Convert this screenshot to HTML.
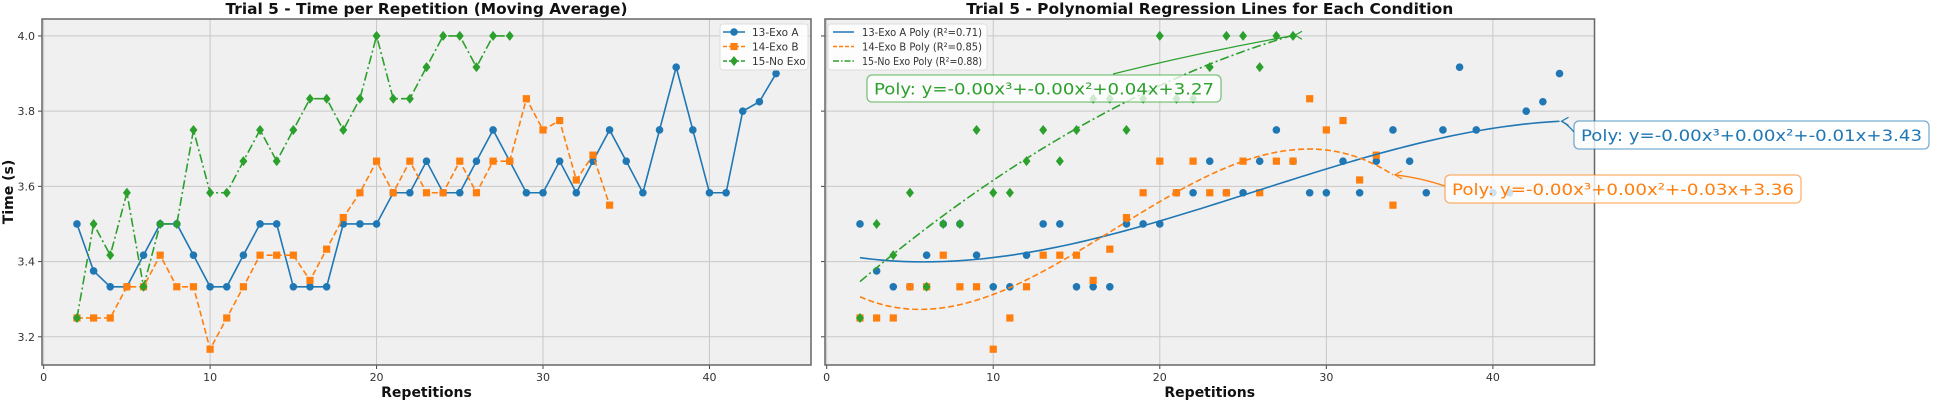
<!DOCTYPE html>
<html><head><meta charset="utf-8"><style>
html,body{margin:0;padding:0;background:#fff;}
svg{display:block;font-family:"DejaVu Sans","Liberation Sans",sans-serif;}
</style></head><body>
<svg id="fig" width="1937" height="405" viewBox="0 0 1937 405" xmlns="http://www.w3.org/2000/svg">
<g id="leftAx"></g>
<g id="rightAx"></g>
</svg>
<script>
const xsA = [2,3,4,5,6,7,8,9,10,11,12,13,14,15,16,17,18,19,20,21,22,23,24,25,26,27,28,29,30,31,32,33,34,35,36,37,38,39,40,41,42,43,44];
const valsA = [3.5,3.375,3.333,3.333,3.417,3.5,3.5,3.417,3.333,3.333,3.417,3.5,3.5,3.333,3.333,3.333,3.5,3.5,3.5,3.583,3.583,3.667,3.583,3.583,3.667,3.75,3.667,3.583,3.583,3.667,3.583,3.667,3.75,3.667,3.583,3.75,3.917,3.75,3.583,3.583,3.8,3.825,3.9];
const xsB = [2,3,4,5,6,7,8,9,10,11,12,13,14,15,16,17,18,19,20,21,22,23,24,25,26,27,28,29,30,31,32,33,34];
const valsB = [3.25,3.25,3.25,3.333,3.333,3.417,3.333,3.333,3.167,3.25,3.333,3.417,3.417,3.417,3.35,3.433,3.517,3.583,3.667,3.583,3.667,3.583,3.583,3.667,3.583,3.667,3.667,3.833,3.75,3.775,3.617,3.683,3.55];
const xsC = [2,3,4,5,6,7,8,9,10,11,12,13,14,15,16,17,18,19,20,21,22,23,24,25,26,27,28];
const valsC = [3.25,3.5,3.417,3.583,3.333,3.5,3.5,3.75,3.583,3.583,3.667,3.75,3.667,3.75,3.833,3.833,3.75,3.833,4.0,3.833,3.833,3.917,4.0,4.0,3.917,4.0,4.0];
const seriesNames = ["13-Exo A","14-Exo B","15-No Exo"];
const polyNames = ["13-Exo A Poly (R²=0.71)","14-Exo B Poly (R²=0.85)","15-No Exo Poly (R²=0.88)"];
const polyLabels = ["Poly: y=-0.00x³+0.00x²+-0.01x+3.43","Poly: y=-0.00x³+0.00x²+-0.03x+3.36","Poly: y=-0.00x³+-0.00x²+0.04x+3.27"];
const xTicks = [0,10,20,30,40];
const yTicks = [3.2,3.4,3.6,3.8,4.0];

const NS="http://www.w3.org/2000/svg";
const colors=["#1f77b4","#ff7f0e","#2ca02c"];
const dashes=["","6,3","9,3,2,3"];
const XMIN=-0.1,XMAX=46.1,YMIN=3.125,YMAX=4.045;
const TOP=19,BOT=365;
function mk(tag,attrs,parent){const e=document.createElementNS(NS,tag);for(const k in attrs)e.setAttribute(k,attrs[k]);parent.appendChild(e);return e;}
function axes(L,R){return {x:v=>L+(v-XMIN)/(XMAX-XMIN)*(R-L),y:v=>BOT-(v-YMIN)/(YMAX-YMIN)*(BOT-TOP),L,R};}

function marker(g,kind,cx,cy,col,op){
  let e;
  if(kind===0){e=mk('circle',{cx,cy,r:3.8,fill:col,opacity:op},g);}
  else if(kind===1){e=mk('rect',{x:cx-3.6,y:cy-3.6,width:7.2,height:7.2,fill:col,opacity:op},g);}
  else{e=mk('path',{d:`M${cx},${cy-5} L${cx+4},${cy} L${cx},${cy+5} L${cx-4},${cy} Z`,fill:col,opacity:op},g);}
  return e;
}

function frame(g,ax,showYLabels,title,titleLen){
  const bg=mk('rect',{x:ax.L,y:TOP,width:ax.R-ax.L,height:BOT-TOP,fill:"#f0f0f0"},g);
  
  
  xTicks.forEach(t=>{
    const x=ax.x(t);
    const gl=mk('line',{x1:x,x2:x,y1:TOP,y2:BOT,stroke:"#c8c8c8","stroke-width":1},g);
    
    
    mk('line',{x1:x,x2:x,y1:BOT,y2:BOT+4,stroke:"#444","stroke-width":1},g);
    const tl=mk('text',{x:x,y:BOT+16,"font-size":11,"text-anchor":"middle",fill:"#333"},g);
    tl.textContent=t;
    
    
  });
  yTicks.forEach(t=>{
    const y=ax.y(t);
    const gl=mk('line',{x1:ax.L,x2:ax.R,y1:y,y2:y,stroke:"#c8c8c8","stroke-width":1},g);
    
    
    mk('line',{x1:ax.L-4,x2:ax.L,y1:y,y2:y,stroke:"#444","stroke-width":1},g);
    if(showYLabels){
      const tl=mk('text',{x:ax.L-7,y:y+4,"font-size":11,"text-anchor":"end",fill:"#333"},g);
      tl.textContent=t.toFixed(1);
      
      
    }
  });
  const br=mk('rect',{x:ax.L,y:TOP,width:ax.R-ax.L,height:BOT-TOP,fill:"none",stroke:"#666","stroke-width":1.5},g);
  
  
  const tt=mk('text',{x:(ax.L+ax.R)/2,y:14,"font-size":15,"font-weight":"bold","text-anchor":"middle",textLength:titleLen,lengthAdjust:"spacingAndGlyphs",fill:"#111"},g);
  tt.textContent=title;
  
  
  const xl=mk('text',{x:(ax.L+ax.R)/2,y:397,"font-size":14,"font-weight":"bold","text-anchor":"middle",fill:"#111"},g);
  xl.textContent="Repetitions";
  
  
}

function polyfit(xs,ys){
  const n=4,M=[];for(let i=0;i<n;i++){M.push(new Array(n+1).fill(0));}
  xs.forEach((x,k)=>{for(let i=0;i<n;i++){for(let j=0;j<n;j++)M[i][j]+=Math.pow(x,i+j);M[i][n]+=ys[k]*Math.pow(x,i);}});
  for(let c=0;c<n;c++){let p=c;for(let r=c+1;r<n;r++)if(Math.abs(M[r][c])>Math.abs(M[p][c]))p=r;[M[c],M[p]]=[M[p],M[c]];
    for(let r=0;r<n;r++){if(r===c)continue;const f=M[r][c]/M[c][c];for(let j=c;j<=n;j++)M[r][j]-=f*M[c][j];}}
  const co=[];for(let i=0;i<n;i++)co.push(M[i][n]/M[i][i]);
  return x=>co[0]+co[1]*x+co[2]*x*x+co[3]*x*x*x;
}

const XS=[xsA,xsB,xsC],YS=[valsA,valsB,valsC];

// Left panel
const gl=document.getElementById('leftAx');
const axL=axes(42,811);
frame(gl,axL,true,"Trial 5 - Time per Repetition (Moving Average)",402);
const yl=mk('text',{x:0,y:0,"font-size":14,"font-weight":"bold","text-anchor":"middle",fill:"#111",transform:"translate(13,192) rotate(-90)"},gl);
yl.textContent="Time (s)";


for(let s=0;s<3;s++){
  const sg=mk('g',{},gl);
  
  
  const pts=XS[s].map((x,i)=>axL.x(x)+","+axL.y(YS[s][i])).join(" ");
  const pl=mk('polyline',{points:pts,fill:"none",stroke:colors[s],"stroke-width":1.6,"stroke-dasharray":dashes[s]},sg);
  
  
  XS[s].forEach((x,i)=>{const m=marker(sg,s,axL.x(x),axL.y(YS[s][i]),colors[s],1);
    
    });
}
// left legend
const lg=mk('g',{},gl);


mk('rect',{x:720,y:24,width:88,height:46,rx:3,fill:"#fff","fill-opacity":0.85,stroke:"#ddd"},lg);
for(let s=0;s<3;s++){
  const y=32+s*14.5;
  const e=mk('g',{},lg);
  
  
  mk('line',{x1:723,x2:745,y1:y,y2:y,stroke:colors[s],"stroke-width":1.6,"stroke-dasharray":dashes[s]?"4,2":""},e);
  marker(e,s,734,y,colors[s],1);
  const t=mk('text',{x:752,y:y+4,"font-size":10.5,fill:"#333"},e);t.textContent=seriesNames[s];
}

// Right panel
const gr=document.getElementById('rightAx');
const axR=axes(825,1594.5);
frame(gr,axR,false,"Trial 5 - Polynomial Regression Lines for Each Condition",487);
const fits=[];
for(let s=0;s<3;s++){
  const sg=mk('g',{},gr);
  
  
  XS[s].forEach((x,i)=>{const m=marker(sg,s,axR.x(x),axR.y(YS[s][i]),colors[s],1);
    
    });
}
for(let s=0;s<3;s++){
  const f=polyfit(XS[s],YS[s]);fits.push(f);
  const x0=Math.min(...XS[s]),x1=Math.max(...XS[s]);let pts=[];
  for(let k=0;k<=100;k++){const x=x0+(x1-x0)*k/100;pts.push(axR.x(x)+","+axR.y(f(x)));}
  const pl=mk('polyline',{points:pts.join(" "),fill:"none",stroke:colors[s],"stroke-width":1.6,"stroke-dasharray":dashes[s]},gr);
  
  
}
// annotations
const boxes=[[1574,121,355,28],[1445,175,356,28],[867,75,354,27]];
const arrowFrom=[[1574,132],[1445,186],[1113,74]];
for(let s=0;s<3;s++){
  const xe=Math.max(...XS[s]);
  const tx=axR.x(xe),ty=axR.y(fits[s](xe));
  const ag=mk('g',{},gr);
  
  
  const [fx,fy]=arrowFrom[s];
  mk('path',{d:`M${fx},${fy} Q${(fx+tx)/2},${(fy+ty)/2-3} ${tx+2},${ty}`,fill:"none",stroke:colors[s],"stroke-width":1.3},ag);
  mk('path',{d:`M${tx+9},${ty-4} L${tx+2},${ty} L${tx+9},${ty+4}`,fill:"none",stroke:colors[s],"stroke-width":1.2},ag);
  const [bx,by,bw,bh]=boxes[s];
  mk('rect',{x:bx,y:by,width:bw,height:bh,rx:5,fill:"#fff","fill-opacity":0.78,stroke:colors[s],"stroke-opacity":0.6,"stroke-width":1.3},ag);
  const t=mk('text',{x:bx+bw/2,y:by+bh/2+6,"font-size":16,"text-anchor":"middle",fill:colors[s],textLength:bw-14,lengthAdjust:"spacingAndGlyphs"},ag);
  t.textContent=polyLabels[s];
}
// right legend
const rg=mk('g',{},gr);


mk('rect',{x:828,y:24,width:159,height:46,rx:3,fill:"#fff","fill-opacity":0.85,stroke:"#ddd"},rg);
for(let s=0;s<3;s++){
  const y=32+s*14.5;
  const e=mk('g',{},rg);
  
  
  mk('line',{x1:833,x2:854,y1:y,y2:y,stroke:colors[s],"stroke-width":1.6,"stroke-dasharray":s===1?"4,2":(s===2?"6,2,1.5,2":"")},e);
  const t=mk('text',{x:862,y:y+4,"font-size":11,fill:"#333",textLength:120,lengthAdjust:"spacingAndGlyphs"},e);t.textContent=polyNames[s];
}
</script>
</body></html>
